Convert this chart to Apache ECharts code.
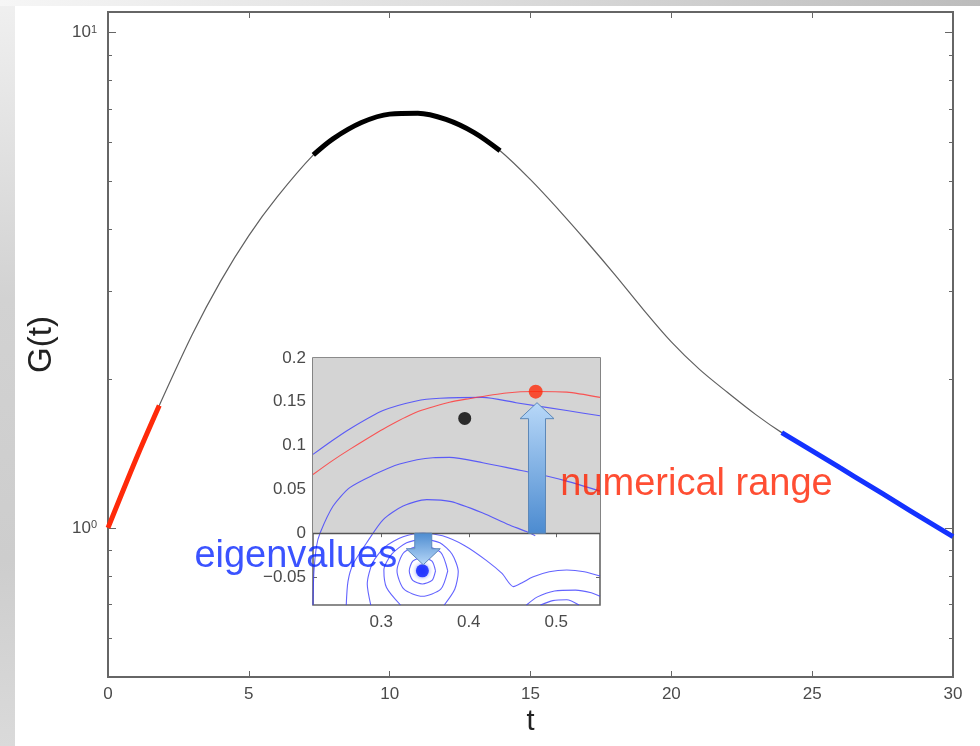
<!DOCTYPE html>
<html><head><meta charset="utf-8">
<script src="https://cdn.jsdelivr.net/npm/echarts@6/dist/echarts.min.js"></script>
<style>
html,body{margin:0;padding:0;background:#fff;}
#bgL{position:absolute;left:0;top:0;width:15px;height:746px;background:linear-gradient(to bottom,#f0f0f0 0%,#d2d2d2 40%,#cdcdcd 75%,#dadada 100%);}
#bgT{position:absolute;left:0;top:0;width:980px;height:6px;background:linear-gradient(to right,#f6f6f6 0%,#dcdcdc 50%,#bcbcbc 100%);}
#chart{position:absolute;left:0;top:0;width:980px;height:746px;}
</style></head><body>
<div id="bgL"></div><div id="bgT"></div>
<div id="chart"></div>
<script>
// ---- main curve G(t) ----
const tValues = [0, 1, 1.82, 3, 4, 5, 6, 7.29, 8, 9, 10, 11, 12, 13, 13.92, 15, 16, 17, 18, 19, 20, 21, 22, 23, 23.92, 25, 26, 27, 28, 29, 30];
const gValues = [1.0, 1.379, 1.766, 2.462, 3.149, 3.891, 4.65, 5.66, 6.107, 6.58, 6.843, 6.871, 6.676, 6.279, 5.77, 5.045, 4.385, 3.781, 3.242, 2.762, 2.374, 2.089, 1.876, 1.693, 1.557, 1.431, 1.321, 1.22, 1.126, 1.039, 0.960];
// highlighted stretches (index ranges into the arrays above)
const redRange = [0, 2];
const blackRange = [7, 14];
const blueRange = [24, 30];
// axis ticks
const yMajor = [1, 10];
const yMinor = [0.6, 0.7, 0.8, 0.9, 2, 3, 4, 5, 6, 7, 8, 9];

// ---- inset (complex plane) ----
const insetXTicks = [0.3, 0.4, 0.5];
const insetYTicks = [-0.05, 0, 0.05, 0.1, 0.15, 0.2];
const redBoundary = [[0.222,0.067],[0.243,0.082],[0.264,0.0957],[0.302,0.1187],[0.340,0.138],[0.378,0.1494],[0.397,0.153],[0.443,0.160],[0.477,0.1617],[0.512,0.161],[0.55,0.155]];
const contourA = [[0.222,0.090],[0.243,0.105],[0.264,0.119],[0.302,0.140],[0.340,0.151],[0.367,0.154],[0.416,0.155],[0.454,0.149],[0.512,0.140],[0.55,0.134]];
const contourB = [[0.222,-0.082],[0.223,-0.045],[0.226,-0.015],[0.230,0.0],[0.245,0.031],[0.264,0.052],[0.290,0.066],[0.321,0.079],[0.359,0.0862],[0.378,0.0865],[0.416,0.0805],[0.454,0.0728],[0.473,0.069],[0.51,0.060],[0.55,0.048]];
const contourC = [[0.260,-0.082],[0.262,-0.055],[0.268,-0.035],[0.283,-0.0115],[0.302,0.0153],[0.325,0.031],[0.352,0.0383],[0.380,0.036],[0.416,0.023],[0.445,0.010],[0.466,0.0018],[0.476,-0.003]];
const contourD = [[0.288,-0.082],[0.284,-0.058],[0.290,-0.034],[0.304,-0.016],[0.325,-0.004],[0.348,0.0],[0.370,-0.003],[0.395,-0.014],[0.420,-0.031],[0.438,-0.046],[0.451,-0.061],[0.462,-0.056],[0.473,-0.050],[0.492,-0.044],[0.512,-0.042],[0.532,-0.044],[0.55,-0.049]];
const ring1 = [[0.362,-0.043],[0.358,-0.032],[0.347,-0.028],[0.336,-0.032],[0.332,-0.043],[0.336,-0.054],[0.347,-0.058],[0.358,-0.054],[0.362,-0.043]];
const ring2 = [[0.376,-0.043],[0.368,-0.022],[0.347,-0.014],[0.326,-0.022],[0.318,-0.043],[0.326,-0.064],[0.347,-0.072],[0.368,-0.064],[0.376,-0.043]];
const ring3 = [[0.322,-0.082],[0.306,-0.062],[0.303,-0.042],[0.312,-0.024],[0.329,-0.011],[0.348,-0.007],[0.367,-0.011],[0.381,-0.024],[0.388,-0.044],[0.384,-0.064],[0.372,-0.082]];
const arcR1 = [[0.466,-0.082],[0.478,-0.073],[0.498,-0.066],[0.522,-0.065],[0.540,-0.068],[0.55,-0.072]];
const arcR2 = [[0.482,-0.082],[0.496,-0.077],[0.512,-0.076],[0.526,-0.082]];
const redDot = [[0.4765, 0.1616]];
const blackDot = [[0.3954, 0.131]];
const eigenDot = [[0.347, -0.043]];
// arrows: [x, yFrom, yTo]
const arrowUp = [[0.478, 0.0, 0.149]];
const arrowDown = [[0.348, 0.0, -0.036]];
// annotation texts
const annotEigen = { text: 'eigenvalues', at: [0.3188, -0.027] };
const annotRange = { text: 'numerical range', at: [0.504, 0.0555] };

const FONT = 'Liberation Sans, Arial, Helvetica, sans-serif';
const AXC = '#666';
const LBC = '#4a4a4a';

const mainData = tValues.map((t, i) => [t, gValues[i]]);
const seg = r => mainData.slice(r[0], r[1] + 1);

function arrowRender(params, api) {
  const x = api.value(0), y0 = api.value(1), y1 = api.value(2);
  const p0 = api.coord([x, y0]), p1 = api.coord([x, y1]);
  const up = p1[1] < p0[1];
  const dir = up ? -1 : 1;
  const sw = 8.5, hw = 17, hl = 16;
  const cx = p0[0];
  const hb = p1[1] - dir * hl;
  const pts = [[cx - sw, p0[1]], [cx - sw, hb], [cx - hw, hb], [cx, p1[1]], [cx + hw, hb], [cx + sw, hb], [cx + sw, p0[1]]];
  const light = '#b8d8f8', dark = '#4c8bd0';
  return {
    type: 'polygon',
    shape: { points: pts },
    style: {
      fill: { type: 'linear', x: 0, y: 0, x2: 0, y2: 1, global: false,
        colorStops: up ? [{offset:0,color:light},{offset:1,color:dark}] : [{offset:0,color:dark},{offset:1,color:light}] },
      stroke: '#5d88b8', lineWidth: 1
    }
  };
}

const contourStyle = { color: 'rgba(60,60,255,0.8)', width: 1.1 };
function contour(data) {
  return { type: 'line', xAxisIndex: 2, yAxisIndex: 4, data: data, showSymbol: false, smooth: 0.25,
    lineStyle: contourStyle, silent: true, z: 3 };
}

const chart = echarts.init(document.getElementById('chart'), null, { renderer: 'canvas' });
chart.setOption({
  animation: false,
  textStyle: { fontFamily: FONT },
  grid: [
    { left: 108, right: 27, top: 12, bottom: 69, show: true, backgroundColor: '#fff', borderColor: AXC, borderWidth: 2 },
    { left: 313, top: 358, width: 287, height: 247, show: true, backgroundColor: '#fff', borderColor: AXC, borderWidth: 1.6 }
  ],
  xAxis: [
    { type: 'value', gridIndex: 0, position: 'bottom', min: 0, max: 30, interval: 5,
      axisLine: { show: false }, splitLine: { show: false },
      axisTick: { inside: true, length: 6, lineStyle: { color: AXC, width: 1 } },
      axisLabel: { fontSize: 17, color: LBC, margin: 9, fontFamily: FONT },
      name: 't', nameLocation: 'middle', nameGap: 26, nameTextStyle: { fontSize: 29, color: '#222', fontFamily: FONT } },
    { type: 'value', gridIndex: 0, position: 'top', min: 0, max: 30, interval: 5,
      axisLine: { show: false }, splitLine: { show: false },
      axisTick: { inside: true, length: 6, lineStyle: { color: AXC, width: 1 } },
      axisLabel: { show: false } },
    { type: 'value', gridIndex: 1, position: 'bottom', min: 0.222, max: 0.55,
      axisLine: { show: false }, splitLine: { show: false },
      axisTick: { inside: true, length: 4, customValues: insetXTicks, lineStyle: { color: AXC } },
      axisLabel: { customValues: insetXTicks, fontSize: 17, color: LBC, margin: 9, fontFamily: FONT } },
    { type: 'value', gridIndex: 1, position: 'top', min: 0.222, max: 0.55,
      axisLine: { show: false }, splitLine: { show: false },
      axisTick: { inside: true, length: 4, customValues: insetXTicks, lineStyle: { color: AXC } },
      axisLabel: { show: false } }
  ],
  yAxis: [
    { type: 'log', logBase: 10, gridIndex: 0, position: 'left', min: 0.5, max: 11,
      axisLine: { show: false }, splitLine: { show: false },
      axisTick: { inside: true, length: 8, customValues: yMajor, lineStyle: { color: AXC, width: 1 } },
      axisLabel: { customValues: yMajor, margin: 11, color: LBC, fontFamily: FONT,
        formatter: v => '{b|10}{s|' + Math.round(Math.log10(v)) + '}',
        rich: { b: { fontSize: 17, color: LBC, fontFamily: FONT }, s: { fontSize: 11, color: LBC, fontFamily: FONT, verticalAlign: 'top' } } },
      name: 'G(t)', nameLocation: 'middle', nameRotate: 90, nameGap: 50, nameTextStyle: { fontSize: 33, color: '#222', fontFamily: FONT } },
    { type: 'log', logBase: 10, gridIndex: 0, position: 'left', min: 0.5, max: 11,
      axisLine: { show: false }, splitLine: { show: false },
      axisTick: { inside: true, length: 4, customValues: yMinor, lineStyle: { color: AXC, width: 1 } },
      axisLabel: { show: false } },
    { type: 'log', logBase: 10, gridIndex: 0, position: 'right', min: 0.5, max: 11,
      axisLine: { show: false }, splitLine: { show: false },
      axisTick: { inside: true, length: 8, customValues: yMajor, lineStyle: { color: AXC, width: 1 } },
      axisLabel: { show: false } },
    { type: 'log', logBase: 10, gridIndex: 0, position: 'right', min: 0.5, max: 11,
      axisLine: { show: false }, splitLine: { show: false },
      axisTick: { inside: true, length: 4, customValues: yMinor, lineStyle: { color: AXC, width: 1 } },
      axisLabel: { show: false } },
    { type: 'value', gridIndex: 1, position: 'left', min: -0.082, max: 0.2,
      axisLine: { show: false }, splitLine: { show: false },
      axisTick: { inside: true, length: 4, customValues: insetYTicks, lineStyle: { color: AXC } },
      axisLabel: { customValues: insetYTicks, fontSize: 17, color: LBC, margin: 7, fontFamily: FONT,
        formatter: v => (Math.abs(v) < 1e-9 ? '0' : String(Math.round(v * 100) / 100)).replace('-', '\u2212') } },
    { type: 'value', gridIndex: 1, position: 'right', min: -0.082, max: 0.2,
      axisLine: { show: false }, splitLine: { show: false },
      axisTick: { inside: true, length: 4, customValues: insetYTicks, lineStyle: { color: AXC } },
      axisLabel: { show: false } }
  ],
  series: [
    { type: 'line', xAxisIndex: 0, yAxisIndex: 0, data: mainData, showSymbol: false, smooth: 0.33,
      lineStyle: { color: '#606060', width: 1.2 }, silent: true, z: 2 },
    { type: 'line', xAxisIndex: 0, yAxisIndex: 0, data: seg(redRange), showSymbol: false, smooth: 0.33,
      lineStyle: { color: '#ff2a0a', width: 5 }, silent: true, z: 3 },
    { type: 'line', xAxisIndex: 0, yAxisIndex: 0, data: seg(blackRange), showSymbol: false, smooth: 0.33,
      lineStyle: { color: '#000', width: 5 }, silent: true, z: 3 },
    { type: 'line', xAxisIndex: 0, yAxisIndex: 0, data: seg(blueRange), showSymbol: false, smooth: 0.33,
      lineStyle: { color: '#1432ff', width: 5 }, silent: true, z: 3 },
    // inset background (gray upper half-plane) and real axis
    { type: 'line', xAxisIndex: 2, yAxisIndex: 4, data: [], silent: true, z: 2,
      markArea: { silent: true, itemStyle: { color: '#d4d4d4' }, data: [[{ yAxis: 0 }, { yAxis: 0.2 }]] },
      markLine: { silent: true, symbol: 'none', label: { show: false }, lineStyle: { color: '#555', width: 1.3, type: 'solid' }, data: [{ yAxis: 0 }] } },
    contour(contourA), contour(contourB), contour(contourC), contour(contourD),
    contour(ring1), contour(ring2), contour(ring3), contour(arcR1), contour(arcR2),
    { type: 'line', xAxisIndex: 2, yAxisIndex: 4, data: redBoundary, showSymbol: false, smooth: 0.25,
      lineStyle: { color: 'rgba(255,60,60,0.85)', width: 1.1 }, silent: true, z: 3 },
    { type: 'scatter', xAxisIndex: 2, yAxisIndex: 4, data: blackDot, symbolSize: 13, itemStyle: { color: '#000' }, silent: true, z: 5 },
    { type: 'scatter', xAxisIndex: 2, yAxisIndex: 4, data: eigenDot, symbolSize: 13, itemStyle: { color: '#0a1eff', shadowBlur: 4, shadowColor: 'rgba(0,30,255,0.6)' }, silent: true, z: 5 },
    { type: 'custom', xAxisIndex: 2, yAxisIndex: 4, data: arrowUp.concat(arrowDown), renderItem: arrowRender, clip: false, silent: true, z: 6 },
    { type: 'scatter', xAxisIndex: 2, yAxisIndex: 4, data: redDot, symbolSize: 14, itemStyle: { color: '#ff2a0a' }, silent: true, z: 7 },
    { type: 'scatter', xAxisIndex: 2, yAxisIndex: 4, data: [annotEigen.at], symbolSize: 1, clip: false, silent: true, z: 8,
      itemStyle: { color: 'transparent' },
      label: { show: true, position: 'left', distance: 0, formatter: annotEigen.text, fontSize: 38, color: '#0a28ff', fontFamily: FONT } },
    { type: 'scatter', xAxisIndex: 2, yAxisIndex: 4, data: [annotRange.at], symbolSize: 1, clip: false, silent: true, z: 8,
      itemStyle: { color: 'transparent' },
      label: { show: true, position: 'right', distance: 0, formatter: annotRange.text, fontSize: 38, color: '#ff2200', fontFamily: FONT } }
  ]
});
</script>
</body></html>
